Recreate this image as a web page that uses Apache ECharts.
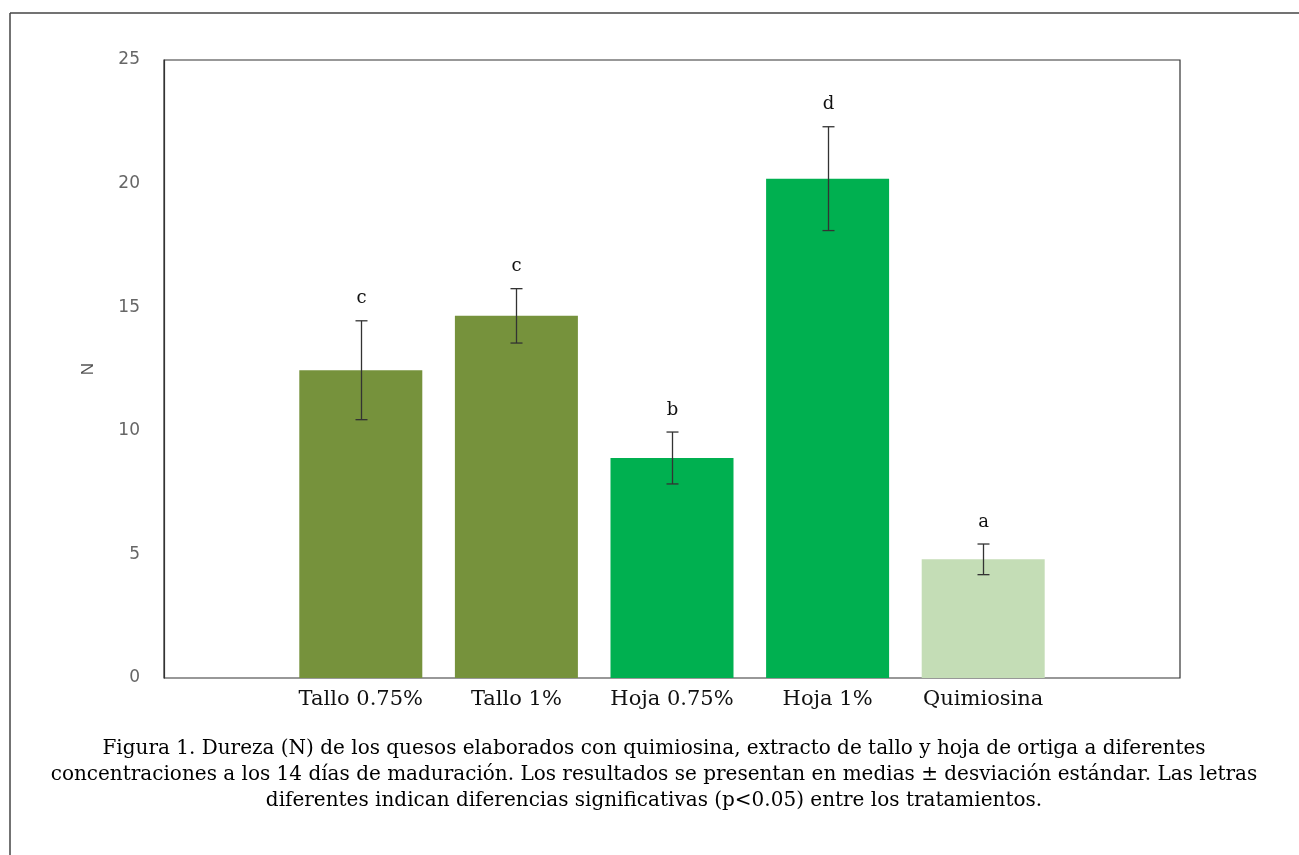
<!DOCTYPE html>
<html>
<head>
<meta charset="utf-8">
<script src="https://cdn.jsdelivr.net/npm/echarts@6/dist/echarts.min.js"></script>
<style>html,body{margin:0;padding:0;background:#fff;}#c{width:1299px;height:855px;}</style>
</head>
<body>
<div id="c"></div>
<script>
const categories = ['Tallo 0.75%', 'Tallo 1%', 'Hoja 0.75%', 'Hoja 1%', 'Quimiosina'];
const means = [12.45, 14.65, 8.9, 20.2, 4.8];
const sds = [2.0, 1.1, 1.05, 2.1, 0.62];
const letters = ['c', 'c', 'b', 'd', 'a'];
const barColors = ['#76923C', '#76923C', '#00B050', '#00B050', '#C4DDB6'];
const yTicks = { min: 0, max: 25, interval: 5 };
const caption = [
  'Figura 1. Dureza (N) de los quesos elaborados con quimiosina, extracto de tallo y hoja de ortiga a diferentes',
  'concentraciones a los 14 días de maduración. Los resultados se presentan en medias ± desviación estándar. Las letras',
  'diferentes indican diferencias significativas (p<0.05) entre los tratamientos.'
];

const chart = echarts.init(document.getElementById('c'), null, { renderer: 'canvas' });
const wideSerif = '"DejaVu Serif", serif';

chart.setOption({
  animation: false,
  backgroundColor: '#fff',
  title: {
    text: caption.join('\n'),
    left: 649, top: 731, textAlign: 'center',
    textStyle: { fontFamily: wideSerif, fontSize: 20, fontWeight: 'normal', color: '#000', lineHeight: 26 }
  },
  graphic: [
    { type: 'line', shape: { x1: 10, y1: 13, x2: 10, y2: 855 }, style: { stroke: '#444', lineWidth: 1.5 } },
    { type: 'line', shape: { x1: 10, y1: 13, x2: 1299, y2: 13 }, style: { stroke: '#444', lineWidth: 1.5 } }
  ],
  grid: [
    { left: 164, right: 119, top: 60, bottom: 177, show: true, borderColor: '#333', borderWidth: 1.2 },
    { left: 283, right: 238, top: 60, bottom: 177 }
  ],
  xAxis: [
    { gridIndex: 0, type: 'category', data: categories, show: false },
    { gridIndex: 1, type: 'category', data: categories,
      axisLine: { show: false }, axisTick: { show: false },
      axisLabel: { interval: 0, hideOverlap: false, fontFamily: wideSerif, fontSize: 21, color: '#111', margin: 11 } }
  ],
  yAxis: [
    { gridIndex: 0, type: 'value', min: yTicks.min, max: yTicks.max, interval: yTicks.interval,
      name: 'N', nameLocation: 'middle', nameGap: 67,
      nameTextStyle: { fontFamily: '"Liberation Sans", sans-serif', fontSize: 17, color: '#555' },
      axisLine: { show: true, lineStyle: { color: '#333', width: 1.2 } }, axisTick: { show: false },
      splitLine: { show: false },
      axisLabel: { fontFamily: '"DejaVu Sans", sans-serif', fontSize: 17, color: '#666', margin: 24 } },
    { gridIndex: 1, type: 'value', min: yTicks.min, max: yTicks.max, interval: yTicks.interval, show: false,
      splitLine: { show: false } }
  ],
  series: [
    {
      type: 'bar', xAxisIndex: 1, yAxisIndex: 1, barWidth: 123,
      data: means.map((v, i) => ({ value: v, itemStyle: { color: barColors[i] } }))
    },
    {
      type: 'custom', xAxisIndex: 1, yAxisIndex: 1, z: 10,
      data: means.map((v, i) => [i, v - sds[i], v + sds[i], letters[i]]),
      renderItem: function (params, api) {
        const lo = api.coord([api.value(0), api.value(1)]);
        const hi = api.coord([api.value(0), api.value(2)]);
        const x = Math.round(lo[0]) + 0.5;
        const cap = 6;
        const st = { stroke: '#333', lineWidth: 1.3 };
        return {
          type: 'group',
          children: [
            { type: 'line', shape: { x1: x, y1: lo[1], x2: x, y2: hi[1] }, style: st },
            { type: 'line', shape: { x1: x - cap, y1: hi[1], x2: x + cap, y2: hi[1] }, style: st },
            { type: 'line', shape: { x1: x - cap, y1: lo[1], x2: x + cap, y2: lo[1] }, style: st },
            { type: 'text', x: x, y: hi[1] - 22,
              style: { text: letters[params.dataIndex], fontFamily: wideSerif, fontSize: 18, fill: '#111',
                       align: 'center', verticalAlign: 'middle' } }
          ]
        };
      }
    }
  ]
});
</script>
</body>
</html>
